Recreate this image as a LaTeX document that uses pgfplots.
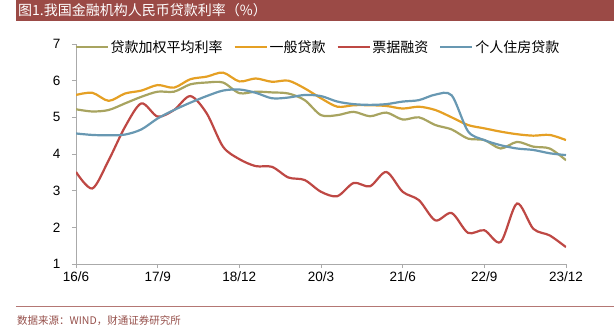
\documentclass[border=0pt]{standalone}
\usepackage{pgfplots}
\usepackage{pgfplotstable}
\pgfplotsset{compat=1.18}
\usepackage{fontspec}
\setmainfont{Liberation Serif}
\newfontfamily\cjk{Noto Sans CJK SC}
\newfontfamily\lsans{Liberation Sans}
\definecolor{cOl}{RGB}{168,164,96}
\definecolor{cOr}{RGB}{229,160,36}
\definecolor{cRd}{RGB}{190,72,68}
\definecolor{cBl}{RGB}{104,152,178}
\definecolor{cBar}{RGB}{155,74,70}
\definecolor{cAx}{RGB}{170,170,170}
\definecolor{cSrc}{RGB}{150,80,75}
\pgfplotstableread{
q ol or rd bl
0 5.22 5.61 3.51 4.56
1 5.16 5.67 3.06 4.52
2 5.20 5.45 3.83 4.51
3 5.38 5.65 4.74 4.53
4 5.56 5.73 5.38 4.67
5 5.70 5.88 5.02 4.97
6 5.70 5.81 5.20 5.20
7 5.90 6.04 5.58 5.40
8 5.95 6.11 5.11 5.58
9 5.95 6.22 4.20 5.73
10 5.66 5.98 3.86 5.76
11 5.70 6.06 3.67 5.67
12 5.68 5.97 3.65 5.52
13 5.65 6.00 3.36 5.54
14 5.47 5.79 3.29 5.61
15 5.06 5.52 2.97 5.58
16 5.06 5.29 2.85 5.43
17 5.15 5.33 3.21 5.36
18 5.03 5.33 3.12 5.34
19 5.13 5.31 3.51 5.36
20 4.94 5.24 2.97 5.43
21 5.00 5.29 2.74 5.47
22 4.79 5.20 2.19 5.62
23 4.67 5.00 2.39 5.60
24 4.42 4.79 1.85 4.62
25 4.38 4.70 1.92 4.38
26 4.15 4.61 1.60 4.24
27 4.33 4.54 2.65 4.15
28 4.20 4.50 1.96 4.11
29 4.15 4.52 1.78 4.02
30 3.83 4.38 1.46 3.97
}\rates
\begin{document}
\begin{tikzpicture}[x=1bp,y=1bp]
\begin{scope}[shift={(-76,-71)}]
\path[use as bounding box] (0,0) rectangle (614,335);
\fill[cBar] (16,314) rectangle (614,335);
\node[anchor=west,text=white,font=\cjk\fontsize{14bp}{16bp}\selectfont,inner sep=0] at (18,324.5) {图1.我国金融机构人民币贷款利率（\%）};
\draw[cBar!75, line width=1bp] (16,29) -- (614,29);
\node[anchor=west,text=cSrc,font=\cjk\fontsize{10.5bp}{12bp}\selectfont,inner sep=0] at (17,14) {数据来源：WIND，财通证券研究所};
\end{scope}
\begin{axis}[
  scale only axis,
  width=490bp, height=220bp,
  xmin=0, xmax=30, ymin=1, ymax=7,
  axis lines=left,
  axis line style={cAx, line width=1bp, -},
  tick style={cAx, line width=1bp},
  tick align=outside, major tick length=4bp,
  xtick={0,5,...,30},
  xticklabels={16/6,17/9,18/12,20/3,21/6,22/9,23/12},
  ytick={1,2,...,7},
  tick label style={font=\lsans\fontsize{13.5bp}{16bp}\selectfont, text=black},
  yticklabel style={xshift=-8bp},
  /pgf/number format/assume math mode=true,
  legend style={at={(0.5,1)}, anchor=center, xshift=-3bp, yshift=-3bp, draw=none, fill=none,
    legend columns=4, font=\cjk\fontsize{14bp}{16bp}\selectfont,
    /tikz/every even column/.append style={column sep=9bp}},
  legend image code/.code={\draw[#1, line width=2bp] (0bp,0bp) -- (32bp,0bp);},
  every axis plot/.append style={line width=2.2bp, smooth, no markers},
]
\addplot[cOl] table[x=q,y=ol] {\rates};
\addlegendentry{贷款加权平均利率}
\addplot[cOr] table[x=q,y=or] {\rates};
\addlegendentry{一般贷款}
\addplot[cRd] table[x=q,y=rd] {\rates};
\addlegendentry{票据融资}
\addplot[cBl] table[x=q,y=bl] {\rates};
\addlegendentry{个人住房贷款}
\end{axis}
\end{tikzpicture}
\end{document}
